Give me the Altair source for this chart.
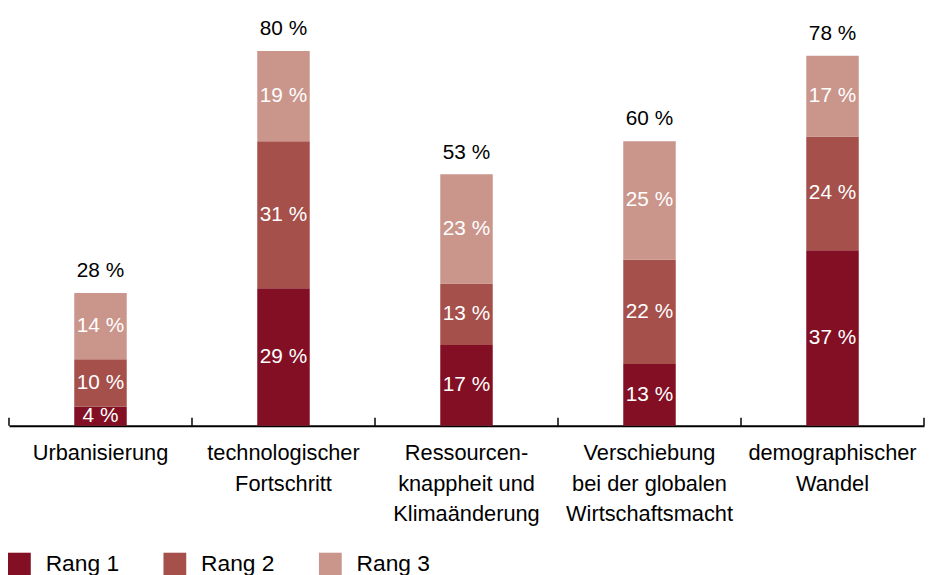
import altair as alt
import pandas as pd

categories = ["Urbanisierung", "technologischer|Fortschritt", "Ressourcen-|knappheit und|Klimaänderung",
              "Verschiebung|bei der globalen|Wirtschaftsmacht", "demographischer|Wandel"]
ranks = ["Rang 1", "Rang 2", "Rang 3"]
rang1 = [4, 29, 17, 13, 37]
rang2 = [10, 31, 13, 22, 24]
rang3 = [14, 19, 23, 25, 17]
totals_vals = [28, 80, 53, 60, 78]
colors = ["#820f23", "#a5504a", "#ca958b"]

rows = []
for i, c in enumerate(categories):
    for r, vals in zip(ranks, [rang1, rang2, rang3]):
        rows.append({"cat": c, "rank": r, "order": ranks.index(r), "value": vals[i]})
df = pd.DataFrame(rows)
cat_df = pd.DataFrame({"cat": categories, "total": totals_vals,
                       "top": [a + b + c for a, b, c in zip(rang1, rang2, rang3)]})

FONT = "Liberation Sans"
W, H = 924, 419
ymax = 87.5

xenc = alt.X("cat:N", sort=categories, title=None,
             scale=alt.Scale(paddingInner=0, paddingOuter=0),
             axis=alt.Axis(labelExpr="split(datum.label, '|')", labelAngle=0, ticks=False, tickSize=0,
                           labelPadding=17, labelFontSize=22, labelFont=FONT, labelColor="black",
                           labelLineHeight=31, labelBaseline="top", domainColor="black",
                           domainWidth=2, labelLimit=300))
yscale = alt.Scale(domain=[0, ymax], nice=False)

base = alt.Chart(df).transform_stack(
    stack="value", groupby=["cat"], sort=[alt.SortField("order")], as_=["y0", "y1"]
).transform_calculate(mid="(datum.y0 + datum.y1) / 2", lbl="datum.value + ' %'")

bars = base.mark_bar(width=53).encode(
    x=xenc,
    y=alt.Y("y1:Q", scale=yscale, axis=None),
    y2="y0:Q",
    color=alt.Color("rank:N", scale=alt.Scale(domain=ranks, range=colors),
                    legend=alt.Legend(title=None, orient="none", legendX=-1, legendY=547,
                                      direction="horizontal", symbolType="square", symbolSize=529,
                                      symbolStrokeWidth=0, labelFontSize=23, labelFont=FONT,
                                      labelColor="black", labelOffset=15, columnPadding=44,
                                      padding=0)),
)

seglabels = base.mark_text(color="white", fontSize=21, font=FONT, baseline="middle").encode(
    x=alt.X("cat:N", sort=categories),
    y=alt.Y("mid:Q", scale=yscale),
    text="lbl:N",
)

totals = alt.Chart(cat_df).transform_calculate(lbl="datum.total + ' %'").mark_text(
    color="black", fontSize=21, font=FONT, baseline="middle", dy=-22
).encode(
    x=alt.X("cat:N", sort=categories),
    y=alt.Y("top:Q", scale=yscale),
    text="lbl:N",
)

ticks = alt.Chart(cat_df).mark_rule(color="black", strokeWidth=1.5).encode(
    x=alt.X("cat:N", sort=categories, bandPosition=0),
    y=alt.value(H - 8), y2=alt.value(H),
)
ticks_end = alt.Chart(cat_df).transform_filter(
    alt.datum.cat == categories[-1]
).mark_rule(color="black", strokeWidth=1.5).encode(
    x=alt.X("cat:N", sort=categories, bandPosition=1),
    y=alt.value(H - 8), y2=alt.value(H),
)

chart = alt.layer(bars, seglabels, totals, ticks, ticks_end).properties(
    width=W, height=H, padding={"left": 0, "top": 0, "right": 0, "bottom": 0}
).configure(font=FONT).configure_view(stroke=None)

chart.save("out.html", embed_options={"renderer": "svg", "actions": False})
